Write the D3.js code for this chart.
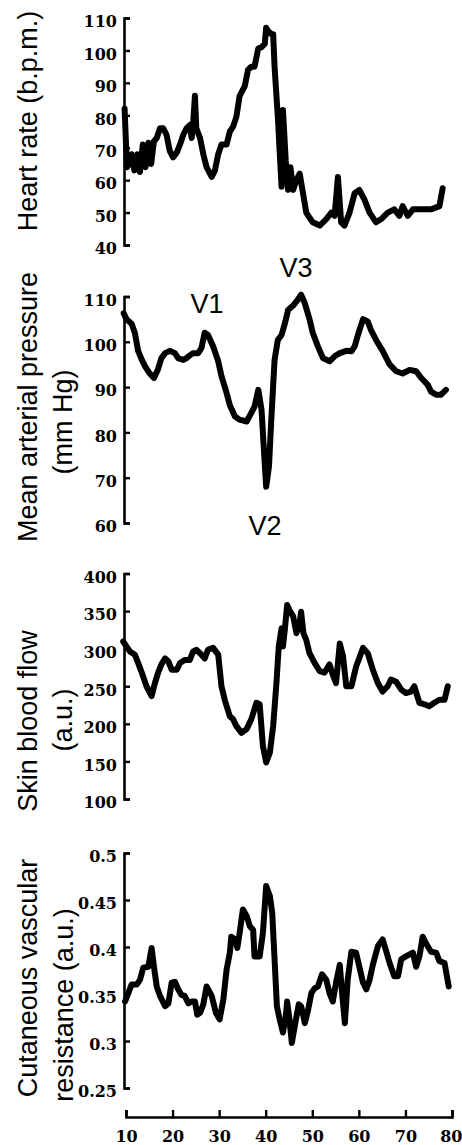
<!DOCTYPE html>
<html><head><meta charset="utf-8">
<script src="https://cdn.jsdelivr.net/npm/d3@7"></script>
<style>
html,body{margin:0;padding:0;background:#fff;}
.tick text{font-family:"DejaVu Serif",serif;font-weight:bold;font-size:16px;fill:#000;}
.lab{font-family:"Liberation Sans",Arial,sans-serif;font-size:27px;fill:#000;}
</style></head>
<body>
<script>
// x axis ticks
const xTicks = [10,20,30,40,50,60,70,80];

// Heart rate
const hrX = [9.7,10.2,10.7,11.2,11.8,12.4,13.0,13.6,14.2,14.8,15.4,16.0,16.6,17.3,18.0,18.7,19.4,20.1,20.9,21.6,22.3,23.0,23.7,24.1,24.4,24.8,25.1,25.9,26.6,27.3,28.4,29.1,29.8,30.5,31.6,32.3,33.0,33.7,34.4,35.5,36.2,36.9,37.6,38.4,39.1,39.8,40.1,40.5,41.2,41.6,41.9,42.6,43.4,43.7,44.3,44.8,45.3,45.9,46.6,47.3,48.0,48.7,50.1,51.6,53.0,54.1,54.8,55.5,56.2,56.9,58.0,59.1,60.1,61.2,62.3,63.7,64.8,66.2,67.6,68.7,69.4,70.5,71.6,73.7,75.5,77.3,78.0];
const hrY = [82,64,65,68,63,68,62.5,71,64,71.5,65,72,73,76,76,74,69,67,68.5,71,74,76,77,73,77,86,76,73,68,64,61,63,68,71,71,75,76.5,79.5,86,89,94,95,95,100.6,101,102,107,106,105,105,95,79.5,58,81.6,66,57,64,57,60,62,56,50,47,46,48,50,49,61,47,46,50,56,57,54,50,47,48,50,51,49,52,49,51,51,51,52,57.5];
const hrTicks = [40,50,60,70,80,90,100,110];

// Mean arterial pressure
const mapX = [9.5,10.1,11.2,11.9,12.6,13.4,14.1,15.1,16.0,16.9,17.6,18.4,19.4,20.5,21.2,22.3,23.0,23.7,24.4,25.5,26.2,26.9,27.6,28.7,29.8,30.5,31.6,32.3,33.4,34.4,35.9,36.9,37.6,38.4,39.1,39.8,40.1,40.7,41.2,41.9,42.6,43.4,44.1,44.8,45.9,46.9,47.6,48.4,49.4,50.1,51.2,52.3,53.7,54.8,55.9,57.3,58.4,59.1,59.8,60.9,61.9,62.6,63.7,65.1,66.6,68.0,69.4,70.9,72.3,73.4,74.8,75.5,76.6,77.6,78.7];
const mapY = [106.3,105,104,102,98,96,94.6,93,92,94,96.4,97.5,98,97.5,96.4,96,96.4,97,97.5,97.5,98.6,102,101.5,99,95.7,92.4,88.7,86,83.5,82.8,82.4,84.3,85.7,89.4,85,73,68,72.5,82.8,96,100.4,101.5,104,107,108,109.3,110.4,108.5,105,102,99,96.4,95.7,96.8,97.5,98,97.9,99,101.5,105,104.5,102.6,100.4,98,95,93.5,93,93.8,93.5,92,90.5,89,88.3,88.3,89.4];
const mapTicks = [60,70,80,90,100,110];

// Skin blood flow
const sbfX = [9.4,10.1,10.9,11.9,12.6,13.4,14.4,15.5,16.2,16.9,17.6,18.4,19.1,19.8,20.9,21.6,22.6,23.7,24.4,25.1,25.9,26.9,27.6,28.7,29.8,30.5,31.2,32.3,33.0,33.7,34.8,35.9,36.9,38.0,38.7,39.4,40.1,40.9,41.6,42.3,42.8,43.4,43.7,44.1,44.6,45.1,45.9,46.6,47.3,47.6,48.1,48.7,49.4,50.5,51.6,52.6,53.7,54.4,55.1,55.9,56.6,57.3,58.4,59.4,60.9,61.9,63.0,64.1,65.1,66.2,66.9,68.0,69.1,70.1,71.2,71.9,73.0,74.1,75.1,76.2,77.3,78.4,79.1];
const sbfY = [309.5,303,296,292,281,268,250,237,254,268,279,287,283,272,272,281,285,285,296,298.5,294,287,298.5,301,292,250,232,210,206,197,188,193,206,228,226,170.5,148.5,162,197,254,303,327,303,325,358,351,343,320.6,334,349,320.6,311.7,294,281,270,268,279,265.4,254,307,290,250,250,276,301,294,272,254,243,250,259,256,245.5,241,243,250,228,226,223.5,228,232,232,250];
const sbfTicks = [100,150,200,250,300,350,400];

// Cutaneous vascular resistance
const cvrX = [9.8,10.5,11.2,12.3,13.0,13.7,14.8,15.5,16.0,16.6,17.3,18.4,19.1,19.8,20.5,21.2,21.9,22.6,23.4,24.1,24.8,25.3,25.9,26.6,27.3,28.4,29.3,30.1,30.9,31.6,32.3,32.6,33.4,33.9,34.4,35.1,35.9,36.6,37.3,37.6,38.7,39.4,40.1,40.9,41.4,41.9,42.4,43.0,43.7,44.3,44.6,45.1,45.6,46.0,46.6,47.1,47.6,48.4,49.1,49.8,50.5,51.2,52.1,53.0,53.7,54.4,55.1,55.9,56.4,57.0,57.6,58.4,59.4,60.1,60.9,61.6,62.3,63.0,64.1,65.1,65.9,66.6,67.6,68.4,69.1,70.1,71.6,72.3,73.0,73.7,74.4,75.5,76.6,77.3,78.4,79.3];
const cvrY = [0.342,0.351,0.360,0.360,0.365,0.378,0.379,0.399,0.379,0.358,0.348,0.337,0.340,0.362,0.363,0.355,0.349,0.348,0.340,0.342,0.342,0.328,0.330,0.339,0.358,0.348,0.330,0.323,0.344,0.376,0.394,0.411,0.408,0.399,0.415,0.440,0.433,0.422,0.418,0.390,0.390,0.415,0.465,0.454,0.436,0.387,0.337,0.323,0.309,0.326,0.342,0.323,0.298,0.309,0.326,0.339,0.337,0.319,0.333,0.351,0.356,0.358,0.371,0.365,0.351,0.342,0.362,0.381,0.351,0.319,0.365,0.395,0.394,0.379,0.362,0.355,0.365,0.381,0.401,0.408,0.395,0.383,0.369,0.369,0.387,0.390,0.394,0.379,0.390,0.411,0.404,0.395,0.394,0.385,0.383,0.358];
const cvrTicks = [0.25,0.3,0.35,0.4,0.45,0.5];

const W = 462, H = 1145;
const svg = d3.select("body").append("svg").attr("width", W).attr("height", H);
const axisX = 124;
const x = d3.scaleLinear().domain([10,80]).range([126,452]);

const panels = [
  {xs:hrX, ys:hrY, ticks:hrTicks, dom:[40,110], rng:[245,18], fmt:d=>d,
   labels:[{t:"Heart rate (b.p.m.)", x:28, y:121}]},
  {xs:mapX, ys:mapY, ticks:mapTicks, dom:[60,110], rng:[523,296.5], fmt:d=>d,
   labels:[{t:"Mean arterial pressure", x:28, y:407},{t:"(mm Hg)", x:63, y:422}]},
  {xs:sbfX, ys:sbfY, ticks:sbfTicks, dom:[100,400], rng:[799,573.5], fmt:d=>d,
   labels:[{t:"Skin blood flow", x:28, y:721},{t:"(a.u.)", x:63, y:720}]},
  {xs:cvrX, ys:cvrY, ticks:cvrTicks, dom:[0.25,0.5], rng:[1088,853], fmt:d=>String(d),
   labels:[{t:"Cutaneous vascular", x:28, y:978},{t:"resistance (a.u.)", x:64, y:1005}]}
];

panels.forEach(p => {
  const y = d3.scaleLinear().domain(p.dom).range(p.rng);
  const g = svg.append("g").attr("transform", `translate(${axisX},0)`);
  g.call(d3.axisLeft(y).tickValues(p.ticks).tickFormat(p.fmt).tickSize(-6).tickSizeOuter(-6).tickPadding(7));
  g.select(".domain").attr("stroke","#000").attr("stroke-width",2.6).attr("fill","none");
  g.selectAll(".tick line").attr("stroke","#000").attr("stroke-width",2.4);
  g.selectAll(".tick text").attr("dy","0.55em");
  const data = p.xs.map((v,i)=>[v,p.ys[i]]);
  svg.append("path").datum(data)
    .attr("fill","none").attr("stroke","#000").attr("stroke-width",6)
    .attr("stroke-linejoin","round").attr("stroke-linecap","round")
    .attr("d", d3.line().x(d=>x(d[0])).y(d=>y(d[1])));
  p.labels.forEach(l => {
    svg.append("text").attr("class","lab")
      .attr("transform", `translate(${l.x},${l.y}) rotate(-90)`)
      .attr("text-anchor","middle").attr("dy","0.35em").text(l.t);
  });
});

// V annotations
const ann = [{t:"V1", x:207, y:313},{t:"V3", x:296, y:277},{t:"V2", x:265, y:535}];
ann.forEach(a => svg.append("text").attr("class","lab").attr("x",a.x).attr("y",a.y)
  .attr("text-anchor","middle").text(a.t));

// x axis
const gx = svg.append("g").attr("transform","translate(0,1117)");
gx.call(d3.axisBottom(x).tickValues(xTicks).tickSize(-7).tickSizeOuter(-7).tickPadding(14));
gx.select(".domain").attr("stroke","#000").attr("stroke-width",2.6).attr("fill","none");
gx.selectAll(".tick line").attr("stroke","#000").attr("stroke-width",2.4);
gx.selectAll(".tick text").filter(d => d === 80).attr("text-anchor","end").attr("dx","10px");
</script>
</body></html>
